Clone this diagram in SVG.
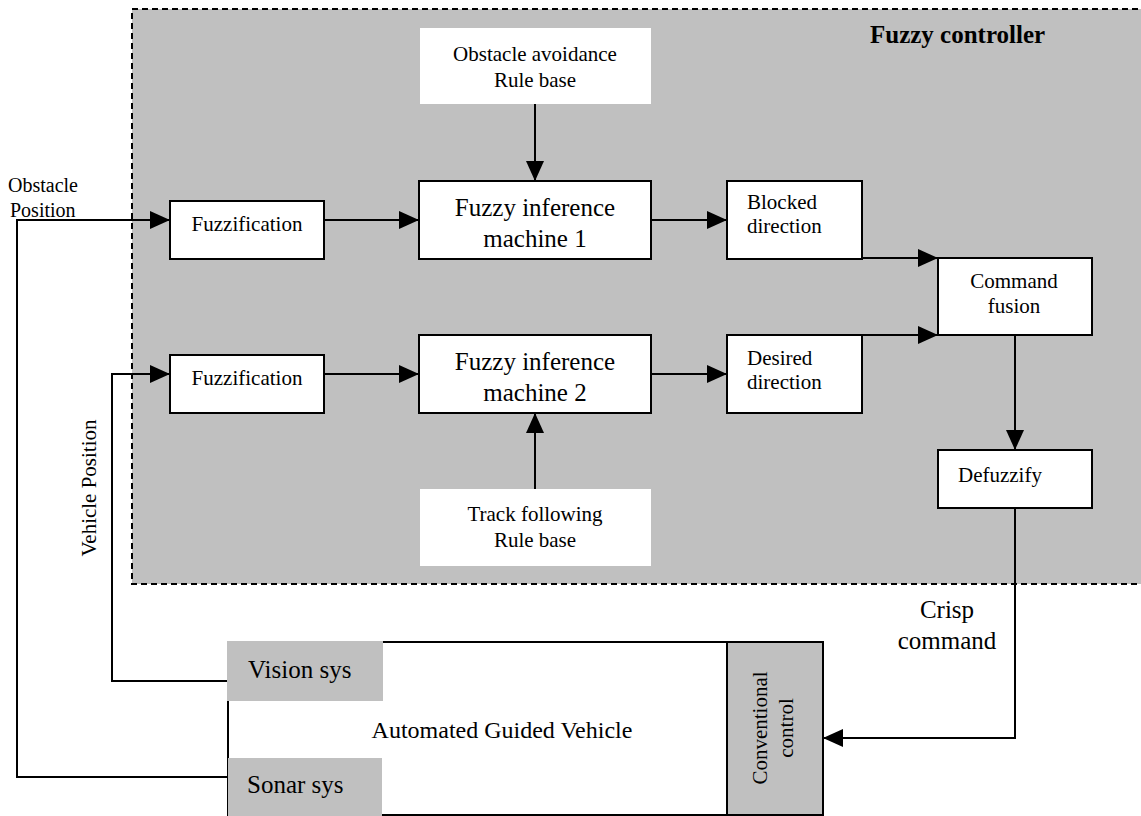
<svg xmlns="http://www.w3.org/2000/svg" width="1141" height="816" viewBox="0 0 1141 816">
<style>
text{font-family:"Liberation Serif","Times New Roman",serif;fill:#000}
.box{fill:#fff;stroke:#000;stroke-width:2}
.rule{fill:#fff;stroke:none}
.gray{fill:#c0c0c0;stroke:none}
.conn{fill:none;stroke:#000;stroke-width:2}
.arr{marker-end:url(#ah)}
.m{text-anchor:middle}
</style>
<defs>
<marker id="ah" markerUnits="userSpaceOnUse" markerWidth="20" markerHeight="18" refX="20" refY="9" orient="auto">
<path d="M0,0 L20,9 L0,18 z" fill="#000"/>
</marker>
</defs>
<rect width="1141" height="816" fill="#fff"/>
<g id="fuzzy-controller">
<rect x="132" y="9" width="1030" height="575" fill="#c0c0c0" stroke="#000" stroke-width="2" stroke-dasharray="6 4"/>
<text x="870" y="43" font-size="25" font-weight="bold">Fuzzy controller</text>
</g>
<g id="oa-rule">
<rect class="rule" x="420" y="28" width="231" height="76"/>
<text class="m" x="535" y="61" font-size="21">Obstacle avoidance</text>
<text class="m" x="535" y="87" font-size="21">Rule base</text>
</g>
<g id="tf-rule">
<rect class="rule" x="420" y="489" width="231" height="77"/>
<text class="m" x="535" y="521" font-size="21">Track following</text>
<text class="m" x="535" y="547" font-size="21">Rule base</text>
</g>
<g id="fuzz1">
<rect class="box" x="170" y="201" width="154" height="58"/>
<text class="m" x="247" y="231" font-size="21">Fuzzification</text>
</g>
<g id="fuzz2">
<rect class="box" x="170" y="355" width="154" height="58"/>
<text class="m" x="247" y="385" font-size="21">Fuzzification</text>
</g>
<g id="fim1">
<rect class="box" x="419" y="181" width="232" height="78"/>
<text class="m" x="535" y="216" font-size="25">Fuzzy inference</text>
<text class="m" x="535" y="247" font-size="25">machine 1</text>
</g>
<g id="fim2">
<rect class="box" x="419" y="335" width="232" height="78"/>
<text class="m" x="535" y="370" font-size="25">Fuzzy inference</text>
<text class="m" x="535" y="401" font-size="25">machine 2</text>
</g>
<g id="blocked">
<rect class="box" x="727" y="181" width="135" height="78"/>
<text x="747" y="209" font-size="21">Blocked</text>
<text x="747" y="233" font-size="21">direction</text>
</g>
<g id="desired">
<rect class="box" x="727" y="335" width="135" height="78"/>
<text x="747" y="365" font-size="21">Desired</text>
<text x="747" y="389" font-size="21">direction</text>
</g>
<g id="command-fusion">
<rect class="box" x="938" y="258" width="154" height="77"/>
<text class="m" x="1014" y="288" font-size="21">Command</text>
<text class="m" x="1014" y="313" font-size="21">fusion</text>
</g>
<g id="defuzzify">
<rect class="box" x="938" y="450" width="154" height="58"/>
<text x="958" y="482" font-size="21">Defuzzify</text>
</g>
<g id="agv">
<rect x="228" y="642" width="595" height="173" fill="#fff" stroke="#000" stroke-width="2"/>
<text class="m" x="502" y="738" font-size="24">Automated Guided Vehicle</text>
</g>
<g id="vision-sys">
<rect class="gray" x="227" y="641" width="156" height="60"/>
<text x="248" y="678" font-size="25">Vision sys</text>
</g>
<g id="sonar-sys">
<rect class="gray" x="228" y="758" width="154" height="58"/>
<text x="247" y="793" font-size="25">Sonar sys</text>
</g>
<g id="conventional-control">
<rect x="727" y="642" width="96" height="173" fill="#c0c0c0" stroke="#000" stroke-width="2"/>
<text class="m" transform="translate(767,728) rotate(-90)" font-size="21">Conventional</text>
<text class="m" transform="translate(793,728) rotate(-90)" font-size="21">control</text>
</g>
<g id="connectors">
<path class="conn arr" d="M228 777 H17 V220 H170"/>
<path class="conn arr" d="M227 681 H112 V374 H170"/>
<path class="conn arr" d="M324 220 H419"/>
<path class="conn arr" d="M651 220 H727"/>
<path class="conn arr" d="M324 374 H419"/>
<path class="conn arr" d="M651 374 H727"/>
<path class="conn arr" d="M535 104 V181"/>
<path class="conn arr" d="M535 489 V413"/>
<path class="conn arr" d="M862 258 H938"/>
<path class="conn arr" d="M862 335 H938"/>
<path class="conn arr" d="M1015 335 V450"/>
<path class="conn arr" d="M1015 508 V738 H823"/>
</g>
<g id="labels">
<text x="8" y="192" font-size="20">Obstacle</text>
<text x="10" y="217" font-size="20">Position</text>
<text class="m" transform="translate(96,488) rotate(-90)" font-size="21">Vehicle Position</text>
<text class="m" x="947" y="618" font-size="25">Crisp</text>
<text class="m" x="947" y="649" font-size="25">command</text>
</g>
</svg>
